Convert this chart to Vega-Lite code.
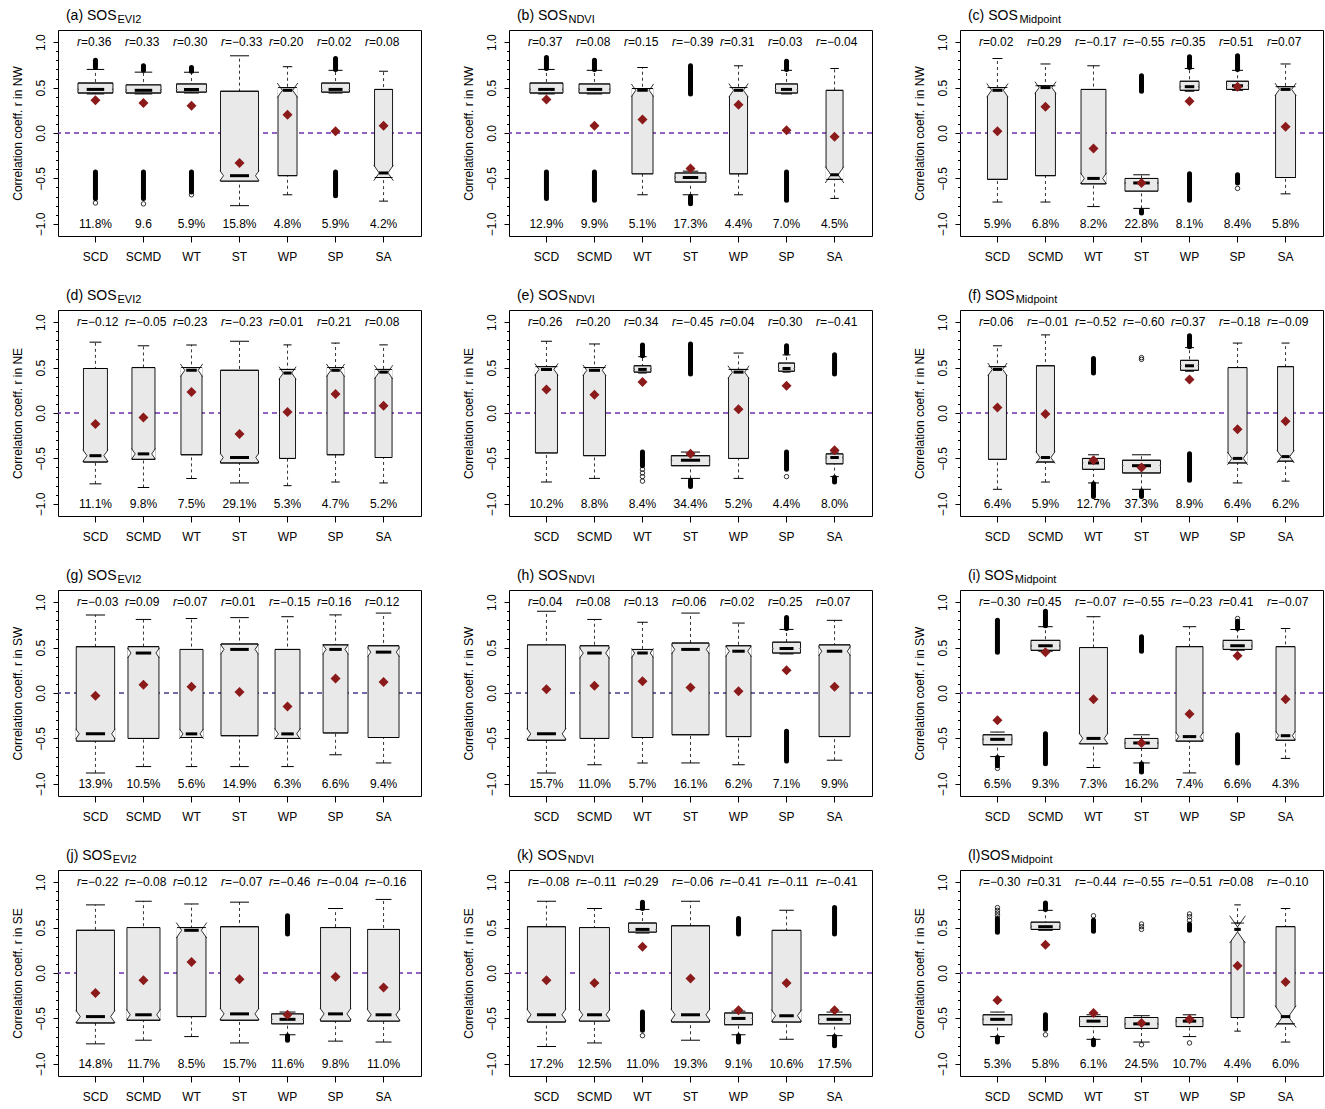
{
"$schema":"https://vega.github.io/schema/vega-lite/v6.json",
"background":"white",
"padding":{"left":10,"top":8,"right":0,"bottom":0},
"data":{"values":[
{"p":"a","c":"SCD","lo":0.43,"q1":0.44,"md":0.48,"q3":0.55,"hi":0.70,"cw":0.01,"n":0.83,"r":0.36,"pl":"11.8%","a1":-0.72,"b1":-0.43,"a2":0.72,"b2":0.80},
{"p":"a","c":"SCMD","lo":0.43,"q1":0.44,"md":0.47,"q3":0.53,"hi":0.67,"cw":0.01,"n":0.83,"r":0.33,"pl":"9.6","a1":-0.72,"b1":-0.43,"a2":0.69,"b2":0.74},
{"p":"a","c":"WT","lo":0.44,"q1":0.45,"md":0.48,"q3":0.54,"hi":0.67,"cw":0.01,"n":0.61,"r":0.30,"pl":"5.9%","a1":-0.65,"b1":-0.43,"a2":0.68,"b2":0.72},
{"p":"a","c":"ST","lo":-0.80,"q1":-0.53,"md":-0.47,"q3":0.46,"hi":0.85,"cw":0.055,"n":0.98,"r":-0.33,"pl":"15.8%"},
{"p":"a","c":"WP","lo":-0.68,"q1":-0.47,"md":0.47,"q3":0.50,"hi":0.73,"cw":0.08,"n":0.245,"r":0.20,"pl":"4.8%"},
{"p":"a","c":"SP","lo":0.44,"q1":0.45,"md":0.48,"q3":0.55,"hi":0.69,"cw":0.01,"n":0.53,"r":0.02,"pl":"5.9%","a1":-0.69,"b1":-0.43,"a2":0.70,"b2":0.82},
{"p":"a","c":"SA","lo":-0.75,"q1":-0.49,"md":-0.44,"q3":0.48,"hi":0.68,"cw":0.085,"n":0.22,"r":0.08,"pl":"4.2%"},
{"p":"b","c":"SCD","lo":0.43,"q1":0.44,"md":0.48,"q3":0.55,"hi":0.70,"cw":0.01,"n":0.74,"r":0.37,"pl":"12.9%","a1":-0.72,"b1":-0.43,"a2":0.71,"b2":0.83},
{"p":"b","c":"SCMD","lo":0.43,"q1":0.44,"md":0.48,"q3":0.54,"hi":0.69,"cw":0.01,"n":0.65,"r":0.08,"pl":"9.9%","a1":-0.74,"b1":-0.43,"a2":0.70,"b2":0.80},
{"p":"b","c":"WT","lo":-0.68,"q1":-0.45,"md":0.47,"q3":0.49,"hi":0.72,"cw":0.07,"n":0.30,"r":0.15,"pl":"5.1%"},
{"p":"b","c":"ST","lo":-0.68,"q1":-0.54,"md":-0.49,"q3":-0.44,"hi":-0.42,"cw":0.01,"n":0.65,"r":-0.39,"pl":"17.3%","a1":-0.78,"b1":-0.70,"a2":0.43,"b2":0.74},
{"p":"b","c":"WP","lo":-0.68,"q1":-0.45,"md":0.47,"q3":0.50,"hi":0.74,"cw":0.075,"n":0.22,"r":0.31,"pl":"4.4%"},
{"p":"b","c":"SP","lo":0.43,"q1":0.44,"md":0.48,"q3":0.54,"hi":0.69,"cw":0.01,"n":0.33,"r":0.03,"pl":"7.0%","a1":-0.74,"b1":-0.43,"a2":0.70,"b2":0.79},
{"p":"b","c":"SA","lo":-0.72,"q1":-0.51,"md":-0.46,"q3":0.47,"hi":0.71,"cw":0.09,"n":0.196,"r":-0.04,"pl":"4.5%"},
{"p":"c","c":"SCD","lo":-0.76,"q1":-0.51,"md":0.47,"q3":0.50,"hi":0.82,"cw":0.075,"n":0.27,"r":0.02,"pl":"5.9%"},
{"p":"c","c":"SCMD","lo":-0.76,"q1":-0.47,"md":0.50,"q3":0.52,"hi":0.76,"cw":0.065,"n":0.27,"r":0.29,"pl":"6.8%"},
{"p":"c","c":"WT","lo":-0.81,"q1":-0.56,"md":-0.50,"q3":0.48,"hi":0.74,"cw":0.06,"n":0.42,"r":-0.17,"pl":"8.2%"},
{"p":"c","c":"ST","lo":-0.83,"q1":-0.64,"md":-0.55,"q3":-0.50,"hi":-0.46,"cw":0.01,"n":0.74,"r":-0.55,"pl":"22.8%","a1":-0.88,"b1":-0.85,"a2":0.46,"b2":0.63},
{"p":"c","c":"WP","lo":0.46,"q1":0.47,"md":0.51,"q3":0.57,"hi":0.71,"cw":0.01,"n":0.245,"r":0.35,"pl":"8.1%","a1":-0.74,"b1":-0.45,"a2":0.72,"b2":0.84},
{"p":"c","c":"SP","lo":0.47,"q1":0.48,"md":0.52,"q3":0.57,"hi":0.69,"cw":0.01,"n":0.33,"r":0.51,"pl":"8.4%","a1":-0.55,"b1":-0.46,"a2":0.70,"b2":0.85},
{"p":"c","c":"SA","lo":-0.67,"q1":-0.49,"md":0.48,"q3":0.51,"hi":0.76,"cw":0.07,"n":0.27,"r":0.07,"pl":"5.8%"},
{"p":"d","c":"SCD","lo":-0.78,"q1":-0.54,"md":-0.47,"q3":0.49,"hi":0.78,"cw":0.065,"n":0.39,"r":-0.12,"pl":"11.1%"},
{"p":"d","c":"SCMD","lo":-0.82,"q1":-0.51,"md":-0.45,"q3":0.50,"hi":0.74,"cw":0.06,"n":0.36,"r":-0.05,"pl":"9.8%"},
{"p":"d","c":"WT","lo":-0.72,"q1":-0.46,"md":0.47,"q3":0.50,"hi":0.75,"cw":0.07,"n":0.30,"r":0.23,"pl":"7.5%"},
{"p":"d","c":"ST","lo":-0.77,"q1":-0.55,"md":-0.49,"q3":0.47,"hi":0.79,"cw":0.05,"n":0.98,"r":-0.23,"pl":"29.1%"},
{"p":"d","c":"WP","lo":-0.80,"q1":-0.50,"md":0.44,"q3":0.48,"hi":0.75,"cw":0.07,"n":0.174,"r":0.01,"pl":"5.3%"},
{"p":"d","c":"SP","lo":-0.76,"q1":-0.46,"md":0.47,"q3":0.50,"hi":0.77,"cw":0.07,"n":0.196,"r":0.21,"pl":"4.7%"},
{"p":"d","c":"SA","lo":-0.77,"q1":-0.49,"md":0.45,"q3":0.48,"hi":0.75,"cw":0.075,"n":0.196,"r":0.08,"pl":"5.2%"},
{"p":"e","c":"SCD","lo":-0.76,"q1":-0.44,"md":0.48,"q3":0.51,"hi":0.79,"cw":0.065,"n":0.33,"r":0.26,"pl":"10.2%"},
{"p":"e","c":"SCMD","lo":-0.72,"q1":-0.47,"md":0.47,"q3":0.50,"hi":0.76,"cw":0.06,"n":0.33,"r":0.20,"pl":"8.8%"},
{"p":"e","c":"WT","lo":0.44,"q1":0.45,"md":0.48,"q3":0.52,"hi":0.62,"cw":0.01,"n":0.196,"r":0.34,"pl":"8.4%","a1":-0.58,"b1":-0.43,"a2":0.63,"b2":0.75},
{"p":"e","c":"ST","lo":-0.72,"q1":-0.58,"md":-0.52,"q3":-0.47,"hi":-0.43,"cw":0.01,"n":1.0,"r":-0.45,"pl":"34.4%","a1":-0.81,"b1":-0.74,"a2":0.43,"b2":0.76},
{"p":"e","c":"WP","lo":-0.72,"q1":-0.50,"md":0.45,"q3":0.48,"hi":0.66,"cw":0.07,"n":0.27,"r":0.04,"pl":"5.2%"},
{"p":"e","c":"SP","lo":0.45,"q1":0.46,"md":0.49,"q3":0.55,"hi":0.64,"cw":0.01,"n":0.174,"r":0.30,"pl":"4.4%","a1":-0.62,"b1":-0.43,"a2":0.66,"b2":0.74},
{"p":"e","c":"SA","lo":-0.70,"q1":-0.56,"md":-0.49,"q3":-0.45,"hi":-0.43,"cw":0.01,"n":0.196,"r":-0.41,"pl":"8.0%","a1":-0.76,"b1":-0.71,"a2":0.43,"b2":0.64},
{"p":"f","c":"SCD","lo":-0.84,"q1":-0.51,"md":0.48,"q3":0.51,"hi":0.74,"cw":0.07,"n":0.22,"r":0.06,"pl":"6.4%"},
{"p":"f","c":"SCMD","lo":-0.76,"q1":-0.54,"md":-0.49,"q3":0.52,"hi":0.86,"cw":0.065,"n":0.22,"r":-0.01,"pl":"5.9%"},
{"p":"f","c":"WT","lo":-0.77,"q1":-0.62,"md":-0.55,"q3":-0.50,"hi":-0.46,"cw":0.01,"n":0.33,"r":-0.52,"pl":"12.7%","a1":-0.92,"b1":-0.78,"a2":0.44,"b2":0.60},
{"p":"f","c":"ST","lo":-0.84,"q1":-0.66,"md":-0.58,"q3":-0.52,"hi":-0.46,"cw":0.01,"n":0.98,"r":-0.60,"pl":"37.3%","a1":-0.92,"b1":-0.86},
{"p":"f","c":"WP","lo":0.46,"q1":0.47,"md":0.52,"q3":0.58,"hi":0.72,"cw":0.01,"n":0.22,"r":0.37,"pl":"8.9%","a1":-0.74,"b1":-0.45,"a2":0.73,"b2":0.85},
{"p":"f","c":"SP","lo":-0.77,"q1":-0.55,"md":-0.50,"q3":0.50,"hi":0.77,"cw":0.07,"n":0.245,"r":-0.18,"pl":"6.4%"},
{"p":"f","c":"SA","lo":-0.75,"q1":-0.53,"md":-0.48,"q3":0.51,"hi":0.77,"cw":0.07,"n":0.174,"r":-0.09,"pl":"6.2%"},
{"p":"g","c":"SCD","lo":-0.88,"q1":-0.53,"md":-0.45,"q3":0.51,"hi":0.86,"cw":0.055,"n":1.0,"r":-0.03,"pl":"13.9%"},
{"p":"g","c":"SCMD","lo":-0.81,"q1":-0.50,"md":0.44,"q3":0.51,"hi":0.81,"cw":0.055,"n":0.65,"r":0.09,"pl":"10.5%"},
{"p":"g","c":"WT","lo":-0.81,"q1":-0.49,"md":-0.45,"q3":0.48,"hi":0.82,"cw":0.055,"n":0.36,"r":0.07,"pl":"5.6%"},
{"p":"g","c":"ST","lo":-0.81,"q1":-0.47,"md":0.48,"q3":0.54,"hi":0.83,"cw":0.055,"n":0.93,"r":0.01,"pl":"14.9%"},
{"p":"g","c":"WP","lo":-0.81,"q1":-0.50,"md":-0.45,"q3":0.48,"hi":0.84,"cw":0.06,"n":0.42,"r":-0.15,"pl":"6.3%"},
{"p":"g","c":"SP","lo":-0.68,"q1":-0.44,"md":0.48,"q3":0.53,"hi":0.86,"cw":0.055,"n":0.42,"r":0.16,"pl":"6.6%"},
{"p":"g","c":"SA","lo":-0.77,"q1":-0.49,"md":0.45,"q3":0.52,"hi":0.88,"cw":0.05,"n":0.65,"r":0.12,"pl":"9.4%"},
{"p":"h","c":"SCD","lo":-0.88,"q1":-0.52,"md":-0.45,"q3":0.53,"hi":0.90,"cw":0.06,"n":0.98,"r":0.04,"pl":"15.7%"},
{"p":"h","c":"SCMD","lo":-0.79,"q1":-0.50,"md":0.44,"q3":0.52,"hi":0.81,"cw":0.06,"n":0.57,"r":0.08,"pl":"11.0%"},
{"p":"h","c":"WT","lo":-0.77,"q1":-0.49,"md":0.44,"q3":0.48,"hi":0.78,"cw":0.05,"n":0.30,"r":0.13,"pl":"5.7%"},
{"p":"h","c":"ST","lo":-0.77,"q1":-0.46,"md":0.48,"q3":0.55,"hi":0.88,"cw":0.05,"n":0.93,"r":0.06,"pl":"16.1%"},
{"p":"h","c":"WP","lo":-0.79,"q1":-0.48,"md":0.46,"q3":0.52,"hi":0.77,"cw":0.06,"n":0.42,"r":0.02,"pl":"6.2%"},
{"p":"h","c":"SP","lo":0.43,"q1":0.44,"md":0.49,"q3":0.56,"hi":0.70,"cw":0.01,"n":0.53,"r":0.25,"pl":"7.1%","a1":-0.75,"b1":-0.42,"a2":0.71,"b2":0.83},
{"p":"h","c":"SA","lo":-0.74,"q1":-0.48,"md":0.46,"q3":0.53,"hi":0.80,"cw":0.05,"n":0.65,"r":0.07,"pl":"9.9%"},
{"p":"i","c":"SCD","lo":-0.70,"q1":-0.57,"md":-0.51,"q3":-0.46,"hi":-0.43,"cw":0.01,"n":0.57,"r":-0.30,"pl":"6.5%","a1":-0.80,"b1":-0.71,"a2":0.45,"b2":0.80},
{"p":"i","c":"SCMD","lo":0.46,"q1":0.47,"md":0.52,"q3":0.58,"hi":0.73,"cw":0.01,"n":0.57,"r":0.45,"pl":"9.3%","a1":-0.78,"b1":-0.45,"a2":0.74,"b2":0.90},
{"p":"i","c":"WT","lo":-0.82,"q1":-0.56,"md":-0.50,"q3":0.50,"hi":0.84,"cw":0.06,"n":0.53,"r":-0.07,"pl":"7.3%"},
{"p":"i","c":"ST","lo":-0.77,"q1":-0.61,"md":-0.55,"q3":-0.50,"hi":-0.46,"cw":0.01,"n":0.74,"r":-0.55,"pl":"16.2%","a1":-0.87,"b1":-0.78,"a2":0.46,"b2":0.62},
{"p":"i","c":"WP","lo":-0.88,"q1":-0.53,"md":-0.48,"q3":0.51,"hi":0.73,"cw":0.05,"n":0.49,"r":-0.23,"pl":"7.4%"},
{"p":"i","c":"SP","lo":0.47,"q1":0.48,"md":0.52,"q3":0.58,"hi":0.70,"cw":0.01,"n":0.57,"r":0.41,"pl":"6.6%","a1":-0.77,"b1":-0.46,"a2":0.71,"b2":0.79},
{"p":"i","c":"SA","lo":-0.72,"q1":-0.52,"md":-0.47,"q3":0.51,"hi":0.71,"cw":0.05,"n":0.245,"r":-0.07,"pl":"4.3%"},
{"p":"j","c":"SCD","lo":-0.78,"q1":-0.55,"md":-0.48,"q3":0.47,"hi":0.75,"cw":0.07,"n":0.98,"r":-0.22,"pl":"14.8%"},
{"p":"j","c":"SCMD","lo":-0.74,"q1":-0.52,"md":-0.46,"q3":0.50,"hi":0.79,"cw":0.06,"n":0.74,"r":-0.08,"pl":"11.7%"},
{"p":"j","c":"WT","lo":-0.70,"q1":-0.48,"md":0.47,"q3":0.50,"hi":0.76,"cw":0.085,"n":0.57,"r":0.12,"pl":"8.5%"},
{"p":"j","c":"ST","lo":-0.77,"q1":-0.52,"md":-0.45,"q3":0.51,"hi":0.78,"cw":0.065,"n":0.98,"r":-0.07,"pl":"15.7%"},
{"p":"j","c":"WP","lo":-0.68,"q1":-0.56,"md":-0.51,"q3":-0.45,"hi":-0.43,"cw":0.01,"n":0.69,"r":-0.46,"pl":"11.6%","a1":-0.74,"b1":-0.69,"a2":0.43,"b2":0.63},
{"p":"j","c":"SP","lo":-0.75,"q1":-0.53,"md":-0.45,"q3":0.50,"hi":0.71,"cw":0.065,"n":0.61,"r":-0.04,"pl":"9.8%"},
{"p":"j","c":"SA","lo":-0.76,"q1":-0.53,"md":-0.46,"q3":0.48,"hi":0.81,"cw":0.065,"n":0.69,"r":-0.16,"pl":"11.0%"},
{"p":"k","c":"SCD","lo":-0.81,"q1":-0.54,"md":-0.46,"q3":0.51,"hi":0.79,"cw":0.065,"n":0.98,"r":-0.08,"pl":"17.2%"},
{"p":"k","c":"SCMD","lo":-0.77,"q1":-0.53,"md":-0.46,"q3":0.50,"hi":0.71,"cw":0.06,"n":0.61,"r":-0.11,"pl":"12.5%"},
{"p":"k","c":"WT","lo":0.44,"q1":0.45,"md":0.48,"q3":0.55,"hi":0.70,"cw":0.01,"n":0.53,"r":0.29,"pl":"11.0%","a1":-0.63,"b1":-0.43,"a2":0.71,"b2":0.78},
{"p":"k","c":"ST","lo":-0.74,"q1":-0.54,"md":-0.46,"q3":0.52,"hi":0.79,"cw":0.065,"n":0.98,"r":-0.06,"pl":"19.3%"},
{"p":"k","c":"WP","lo":-0.68,"q1":-0.57,"md":-0.50,"q3":-0.44,"hi":-0.42,"cw":0.01,"n":0.53,"r":-0.41,"pl":"9.1%","a1":-0.76,"b1":-0.69,"a2":0.43,"b2":0.60},
{"p":"k","c":"SP","lo":-0.73,"q1":-0.54,"md":-0.47,"q3":0.47,"hi":0.69,"cw":0.065,"n":0.57,"r":-0.11,"pl":"10.6%"},
{"p":"k","c":"SA","lo":-0.69,"q1":-0.56,"md":-0.51,"q3":-0.46,"hi":-0.43,"cw":0.01,"n":0.69,"r":-0.41,"pl":"17.5%","a1":-0.80,"b1":-0.70,"a2":0.43,"b2":0.72},
{"p":"l","c":"SCD","lo":-0.70,"q1":-0.57,"md":-0.51,"q3":-0.46,"hi":-0.43,"cw":0.01,"n":0.57,"r":-0.30,"pl":"5.3%","a1":-0.76,"b1":-0.71,"a2":0.45,"b2":0.60},
{"p":"l","c":"SCMD","lo":0.47,"q1":0.48,"md":0.51,"q3":0.56,"hi":0.69,"cw":0.01,"n":0.57,"r":0.31,"pl":"5.8%","a1":-0.62,"b1":-0.46,"a2":0.70,"b2":0.77},
{"p":"l","c":"WT","lo":-0.73,"q1":-0.59,"md":-0.53,"q3":-0.48,"hi":-0.46,"cw":0.01,"n":0.53,"r":-0.44,"pl":"6.1%","a1":-0.79,"b1":-0.74,"a2":0.46,"b2":0.58},
{"p":"l","c":"ST","lo":-0.76,"q1":-0.61,"md":-0.56,"q3":-0.49,"hi":-0.47,"cw":0.01,"n":0.74,"r":-0.55,"pl":"24.5%"},
{"p":"l","c":"WP","lo":-0.70,"q1":-0.59,"md":-0.53,"q3":-0.49,"hi":-0.46,"cw":0.01,"n":0.49,"r":-0.51,"pl":"10.7%","a2":0.47,"b2":0.54},
{"p":"l","c":"SP","lo":-0.64,"q1":-0.49,"md":0.48,"q3":0.55,"hi":0.75,"cw":0.15,"n":0.115,"r":0.08,"pl":"4.4%"},
{"p":"l","c":"SA","lo":-0.76,"q1":-0.56,"md":-0.48,"q3":0.51,"hi":0.71,"cw":0.12,"n":0.245,"r":-0.10,"pl":"6.0%"},
{"p":"a","c":"SCD","v":-0.77},{"p":"a","c":"SCMD","v":-0.78},{"p":"a","c":"WT","v":-0.68},
{"p":"c","c":"SP","v":-0.61},
{"p":"e","c":"WT","v":-0.62},{"p":"e","c":"WT","v":-0.66},{"p":"e","c":"WT","v":-0.70},{"p":"e","c":"WT","v":-0.75},{"p":"e","c":"SP","v":-0.70},
{"p":"f","c":"ST","v":0.59},{"p":"f","c":"ST","v":0.61},
{"p":"i","c":"SCD","v":-0.83},{"p":"i","c":"SP","v":0.82},
{"p":"k","c":"WT","v":-0.69},
{"p":"l","c":"SCD","v":0.63},{"p":"l","c":"SCD","v":0.66},{"p":"l","c":"SCD","v":0.69},{"p":"l","c":"SCD","v":0.72},
{"p":"l","c":"SCMD","v":-0.68},{"p":"l","c":"WT","v":0.63},
{"p":"l","c":"ST","v":-0.79},{"p":"l","c":"ST","v":0.48},{"p":"l","c":"ST","v":0.51},{"p":"l","c":"ST","v":0.54},
{"p":"l","c":"WP","v":-0.77},{"p":"l","c":"WP","v":0.58},{"p":"l","c":"WP","v":0.62},{"p":"l","c":"WP","v":0.65}
]},
"spacing":26,
"vconcat":[
{"transform":[{"filter":{"field":"p","oneOf":["a","b","c"]}}],
"facet":{"column":{"field":"p","type":"nominal","title":null,"header":{"labels":false}}},
"spacing":88,"bounds":"flush","resolve":{"axis":{"y":"independent"}},
"spec":{"width":363,"height":206,"resolve":{"axis":{"y":"independent"}},
"layer":[
{"transform":[{"filter":"datum.c == 'SCD' && isValid(datum.r)"}],"mark":{"type":"rule","stroke":"#7030b0","strokeDash":[5,4],"strokeWidth":1.3},"encoding":{"y":{"datum":0,"type":"quantitative","scale":{"domain":[-1.134,1.134],"nice":false,"zero":false},"axis":{"orient":"left","values":[-0.9,-0.8,-0.7,-0.6,-0.4,-0.3,-0.2,-0.1,0.1,0.2,0.3,0.4,0.6,0.7,0.8,0.9],"labels":false,"tickSize":2.5,"title":null,"domain":false,"grid":false}}}},
{"resolve":{"scale":{"size":"independent","xOffset":"independent"}},"layer":[
{"mark":{"type":"rule","color":"black","strokeDash":[3,3],"strokeWidth":0.8},"encoding":{"x":{"field":"c","type":"nominal","title":null,"scale":{"type":"band","domain":["SCD","SCMD","WT","ST","WP","SP","SA"],"paddingInner":0,"paddingOuter":0.28},"axis":{"labelAngle":0,"tickSize":6,"labelPadding":9}},"y":{"field":"lo","type":"quantitative","scale":{"domain":[-1.134,1.134],"nice":false,"zero":false},"title":"Correlation coeff. r in NW","axis":{"orient":"left","values":[-1,-0.5,0,0.5,1],"format":".1f","tickSize":5,"labelAngle":270,"labelAlign":"center","labelBaseline":"bottom","labelPadding":6,"titlePadding":10,"labelFlush":false}},"y2":{"field":"hi"}}},
{"mark":{"type":"tick","color":"black","opacity":1,"thickness":1},"encoding":{"x":{"field":"c","type":"nominal"},"y":{"field":"lo","type":"quantitative"},"size":{"field":"n","type":"quantitative","scale":{"type":"sqrt","domain":[0,1],"range":[0,19.2]},"legend":null}}},
{"mark":{"type":"tick","color":"black","opacity":1,"thickness":1},"encoding":{"x":{"field":"c","type":"nominal"},"y":{"field":"hi","type":"quantitative"},"size":{"field":"n","type":"quantitative","scale":{"type":"sqrt","domain":[0,1],"range":[0,19.2]},"legend":null}}},
{"mark":{"type":"bar","fill":"#e9e9e9","stroke":"black","strokeWidth":0.9},"encoding":{"x":{"field":"c","type":"nominal"},"y":{"field":"q1","type":"quantitative"},"y2":{"field":"q3"},"size":{"field":"n","type":"quantitative","scale":{"type":"sqrt","domain":[0,1],"range":[0,38.4]},"legend":null}}},
{"mark":{"type":"point","shape":"M0.1,-1L-0.6,0L0.1,1","filled":true,"fill":"white","stroke":"black","strokeWidth":0.8,"opacity":1},"encoding":{"x":{"field":"c","type":"nominal"},"y":{"field":"md","type":"quantitative"},"xOffset":{"field":"n","type":"quantitative","scale":{"type":"sqrt","domain":[0,1],"range":[24.01,43.21]}},"size":{"field":"cw","type":"quantitative","scale":{"type":"pow","exponent":2,"domain":[0,0.1],"range":[0,333.4]},"legend":null}}},
{"mark":{"type":"point","shape":"M-0.1,-1L0.6,0L-0.1,1","filled":true,"fill":"white","stroke":"black","strokeWidth":0.8,"opacity":1},"encoding":{"x":{"field":"c","type":"nominal"},"y":{"field":"md","type":"quantitative"},"xOffset":{"field":"n","type":"quantitative","scale":{"type":"sqrt","domain":[0,1],"range":[24.01,4.81]}},"size":{"field":"cw","type":"quantitative","scale":{"type":"pow","exponent":2,"domain":[0,0.1],"range":[0,333.4]},"legend":null}}},
{"mark":{"type":"tick","color":"black","opacity":1,"thickness":0.9},"encoding":{"x":{"field":"c","type":"nominal"},"y":{"field":"q1","type":"quantitative"},"size":{"field":"n","type":"quantitative","scale":{"type":"sqrt","domain":[0,1],"range":[0,38.4]},"legend":null}}},
{"mark":{"type":"tick","color":"black","opacity":1,"thickness":0.9},"encoding":{"x":{"field":"c","type":"nominal"},"y":{"field":"q3","type":"quantitative"},"size":{"field":"n","type":"quantitative","scale":{"type":"sqrt","domain":[0,1],"range":[0,38.4]},"legend":null}}},
{"mark":{"type":"tick","color":"black","opacity":1,"thickness":3},"encoding":{"x":{"field":"c","type":"nominal"},"y":{"field":"md","type":"quantitative"},"size":{"field":"n","type":"quantitative","scale":{"type":"sqrt","domain":[0,1],"range":[0,19.2]},"legend":null}}},
{"mark":{"type":"rule","color":"black","strokeWidth":5,"strokeCap":"round"},"encoding":{"x":{"field":"c","type":"nominal"},"y":{"field":"a1","type":"quantitative"},"y2":{"field":"b1"}}},
{"mark":{"type":"rule","color":"black","strokeWidth":5,"strokeCap":"round"},"encoding":{"x":{"field":"c","type":"nominal"},"y":{"field":"a2","type":"quantitative"},"y2":{"field":"b2"}}},
{"mark":{"type":"point","shape":"circle","filled":false,"stroke":"black","strokeWidth":0.8,"size":20,"opacity":1},"encoding":{"x":{"field":"c","type":"nominal"},"y":{"field":"v","type":"quantitative"}}},
{"mark":{"type":"point","shape":"diamond","filled":true,"fill":"#8b1a1a","strokeWidth":0,"size":100,"opacity":1},"encoding":{"x":{"field":"c","type":"nominal"},"y":{"field":"r","type":"quantitative"}}},
{"transform":[{"filter":"isValid(datum.r)"}],"mark":{"type":"text","text":"r","fontStyle":"italic","align":"right","dx":-14.5},"encoding":{"x":{"field":"c","type":"nominal"},"y":{"datum":1}}},
{"transform":[{"filter":"isValid(datum.r)"}],"mark":{"type":"text","text":"=","align":"left","dx":-14.5},"encoding":{"x":{"field":"c","type":"nominal"},"y":{"datum":1}}},
{"transform":[{"filter":"isValid(datum.r)"}],"mark":{"type":"text","align":"left","dx":-7.5},"encoding":{"x":{"field":"c","type":"nominal"},"y":{"datum":1},"text":{"field":"r","type":"quantitative","format":".2f"}}},
{"transform":[{"filter":"isValid(datum.r)"}],"mark":{"type":"text"},"encoding":{"x":{"field":"c","type":"nominal"},"y":{"datum":-1},"text":{"field":"pl"}}},
{"transform":[{"filter":"datum.c == 'SCD' && isValid(datum.r)"}],"mark":{"type":"text","align":"left","baseline":"alphabetic","dx":-29.5,"dy":-10,"fontSize":14},"encoding":{"x":{"field":"c","type":"nominal"},"y":{"datum":1.134},"text":{"condition":[{"test":"datum.p == 'a'","value":"(a) SOS"},{"test":"datum.p == 'b'","value":"(b) SOS"}],"value":"(c) SOS"}}},
{"transform":[{"filter":"datum.c == 'SCD' && isValid(datum.r)"}],"mark":{"type":"text","align":"left","baseline":"alphabetic","dx":22,"dy":-7,"fontSize":11},"encoding":{"x":{"field":"c","type":"nominal"},"y":{"datum":1.134},"text":{"condition":[{"test":"datum.p == 'a'","value":"EVI2"},{"test":"datum.p == 'b'","value":"NDVI"}],"value":"Midpoint"}}}
]}]}},
{"transform":[{"filter":{"field":"p","oneOf":["d","e","f"]}}],
"facet":{"column":{"field":"p","type":"nominal","title":null,"header":{"labels":false}}},
"spacing":88,"bounds":"flush","resolve":{"axis":{"y":"independent"}},
"spec":{"width":363,"height":206,"resolve":{"axis":{"y":"independent"}},
"layer":[
{"transform":[{"filter":"datum.c == 'SCD' && isValid(datum.r)"}],"mark":{"type":"rule","stroke":"#7030b0","strokeDash":[5,4],"strokeWidth":1.3},"encoding":{"y":{"datum":0,"type":"quantitative","scale":{"domain":[-1.134,1.134],"nice":false,"zero":false},"axis":{"orient":"left","values":[-0.9,-0.8,-0.7,-0.6,-0.4,-0.3,-0.2,-0.1,0.1,0.2,0.3,0.4,0.6,0.7,0.8,0.9],"labels":false,"tickSize":2.5,"title":null,"domain":false,"grid":false}}}},
{"resolve":{"scale":{"size":"independent","xOffset":"independent"}},"layer":[
{"mark":{"type":"rule","color":"black","strokeDash":[3,3],"strokeWidth":0.8},"encoding":{"x":{"field":"c","type":"nominal","title":null,"scale":{"type":"band","domain":["SCD","SCMD","WT","ST","WP","SP","SA"],"paddingInner":0,"paddingOuter":0.28},"axis":{"labelAngle":0,"tickSize":6,"labelPadding":9}},"y":{"field":"lo","type":"quantitative","scale":{"domain":[-1.134,1.134],"nice":false,"zero":false},"title":"Correlation coeff. r in NE","axis":{"orient":"left","values":[-1,-0.5,0,0.5,1],"format":".1f","tickSize":5,"labelAngle":270,"labelAlign":"center","labelBaseline":"bottom","labelPadding":6,"titlePadding":10,"labelFlush":false}},"y2":{"field":"hi"}}},
{"mark":{"type":"tick","color":"black","opacity":1,"thickness":1},"encoding":{"x":{"field":"c","type":"nominal"},"y":{"field":"lo","type":"quantitative"},"size":{"field":"n","type":"quantitative","scale":{"type":"sqrt","domain":[0,1],"range":[0,19.2]},"legend":null}}},
{"mark":{"type":"tick","color":"black","opacity":1,"thickness":1},"encoding":{"x":{"field":"c","type":"nominal"},"y":{"field":"hi","type":"quantitative"},"size":{"field":"n","type":"quantitative","scale":{"type":"sqrt","domain":[0,1],"range":[0,19.2]},"legend":null}}},
{"mark":{"type":"bar","fill":"#e9e9e9","stroke":"black","strokeWidth":0.9},"encoding":{"x":{"field":"c","type":"nominal"},"y":{"field":"q1","type":"quantitative"},"y2":{"field":"q3"},"size":{"field":"n","type":"quantitative","scale":{"type":"sqrt","domain":[0,1],"range":[0,38.4]},"legend":null}}},
{"mark":{"type":"point","shape":"M0.1,-1L-0.6,0L0.1,1","filled":true,"fill":"white","stroke":"black","strokeWidth":0.8,"opacity":1},"encoding":{"x":{"field":"c","type":"nominal"},"y":{"field":"md","type":"quantitative"},"xOffset":{"field":"n","type":"quantitative","scale":{"type":"sqrt","domain":[0,1],"range":[24.01,43.21]}},"size":{"field":"cw","type":"quantitative","scale":{"type":"pow","exponent":2,"domain":[0,0.1],"range":[0,333.4]},"legend":null}}},
{"mark":{"type":"point","shape":"M-0.1,-1L0.6,0L-0.1,1","filled":true,"fill":"white","stroke":"black","strokeWidth":0.8,"opacity":1},"encoding":{"x":{"field":"c","type":"nominal"},"y":{"field":"md","type":"quantitative"},"xOffset":{"field":"n","type":"quantitative","scale":{"type":"sqrt","domain":[0,1],"range":[24.01,4.81]}},"size":{"field":"cw","type":"quantitative","scale":{"type":"pow","exponent":2,"domain":[0,0.1],"range":[0,333.4]},"legend":null}}},
{"mark":{"type":"tick","color":"black","opacity":1,"thickness":0.9},"encoding":{"x":{"field":"c","type":"nominal"},"y":{"field":"q1","type":"quantitative"},"size":{"field":"n","type":"quantitative","scale":{"type":"sqrt","domain":[0,1],"range":[0,38.4]},"legend":null}}},
{"mark":{"type":"tick","color":"black","opacity":1,"thickness":0.9},"encoding":{"x":{"field":"c","type":"nominal"},"y":{"field":"q3","type":"quantitative"},"size":{"field":"n","type":"quantitative","scale":{"type":"sqrt","domain":[0,1],"range":[0,38.4]},"legend":null}}},
{"mark":{"type":"tick","color":"black","opacity":1,"thickness":3},"encoding":{"x":{"field":"c","type":"nominal"},"y":{"field":"md","type":"quantitative"},"size":{"field":"n","type":"quantitative","scale":{"type":"sqrt","domain":[0,1],"range":[0,19.2]},"legend":null}}},
{"mark":{"type":"rule","color":"black","strokeWidth":5,"strokeCap":"round"},"encoding":{"x":{"field":"c","type":"nominal"},"y":{"field":"a1","type":"quantitative"},"y2":{"field":"b1"}}},
{"mark":{"type":"rule","color":"black","strokeWidth":5,"strokeCap":"round"},"encoding":{"x":{"field":"c","type":"nominal"},"y":{"field":"a2","type":"quantitative"},"y2":{"field":"b2"}}},
{"mark":{"type":"point","shape":"circle","filled":false,"stroke":"black","strokeWidth":0.8,"size":20,"opacity":1},"encoding":{"x":{"field":"c","type":"nominal"},"y":{"field":"v","type":"quantitative"}}},
{"mark":{"type":"point","shape":"diamond","filled":true,"fill":"#8b1a1a","strokeWidth":0,"size":100,"opacity":1},"encoding":{"x":{"field":"c","type":"nominal"},"y":{"field":"r","type":"quantitative"}}},
{"transform":[{"filter":"isValid(datum.r)"}],"mark":{"type":"text","text":"r","fontStyle":"italic","align":"right","dx":-14.5},"encoding":{"x":{"field":"c","type":"nominal"},"y":{"datum":1}}},
{"transform":[{"filter":"isValid(datum.r)"}],"mark":{"type":"text","text":"=","align":"left","dx":-14.5},"encoding":{"x":{"field":"c","type":"nominal"},"y":{"datum":1}}},
{"transform":[{"filter":"isValid(datum.r)"}],"mark":{"type":"text","align":"left","dx":-7.5},"encoding":{"x":{"field":"c","type":"nominal"},"y":{"datum":1},"text":{"field":"r","type":"quantitative","format":".2f"}}},
{"transform":[{"filter":"isValid(datum.r)"}],"mark":{"type":"text"},"encoding":{"x":{"field":"c","type":"nominal"},"y":{"datum":-1},"text":{"field":"pl"}}},
{"transform":[{"filter":"datum.c == 'SCD' && isValid(datum.r)"}],"mark":{"type":"text","align":"left","baseline":"alphabetic","dx":-29.5,"dy":-10,"fontSize":14},"encoding":{"x":{"field":"c","type":"nominal"},"y":{"datum":1.134},"text":{"condition":[{"test":"datum.p == 'd'","value":"(d) SOS"},{"test":"datum.p == 'e'","value":"(e) SOS"}],"value":"(f) SOS"}}},
{"transform":[{"filter":"datum.c == 'SCD' && isValid(datum.r) && datum.p != 'f'"}],"mark":{"type":"text","align":"left","baseline":"alphabetic","dx":22,"dy":-7,"fontSize":11},"encoding":{"x":{"field":"c","type":"nominal"},"y":{"datum":1.134},"text":{"condition":[{"test":"datum.p == 'd'","value":"EVI2"}],"value":"NDVI"}}},
{"transform":[{"filter":"datum.c == 'SCD' && isValid(datum.r) && datum.p == 'f'"}],"mark":{"type":"text","align":"left","baseline":"alphabetic","dx":18.2,"dy":-7,"fontSize":11},"encoding":{"x":{"field":"c","type":"nominal"},"y":{"datum":1.134},"text":{"value":"Midpoint"}}}
]}]}},
{"transform":[{"filter":{"field":"p","oneOf":["g","h","i"]}}],
"facet":{"column":{"field":"p","type":"nominal","title":null,"header":{"labels":false}}},
"spacing":88,"bounds":"flush","resolve":{"axis":{"y":"independent"}},
"spec":{"width":363,"height":206,"resolve":{"axis":{"y":"independent"}},
"layer":[
{"transform":[{"filter":"datum.c == 'SCD' && isValid(datum.r)"}],"mark":{"type":"rule","strokeDash":[5,4],"strokeWidth":1.3},"encoding":{"y":{"datum":0,"type":"quantitative","scale":{"domain":[-1.134,1.134],"nice":false,"zero":false},"axis":{"orient":"left","values":[-0.9,-0.8,-0.7,-0.6,-0.4,-0.3,-0.2,-0.1,0.1,0.2,0.3,0.4,0.6,0.7,0.8,0.9],"labels":false,"tickSize":2.5,"title":null,"domain":false,"grid":false}},"color":{"condition":{"test":"datum.p == 'i'","value":"#7030b0"},"value":"#4b3a8c"}}},
{"resolve":{"scale":{"size":"independent","xOffset":"independent"}},"layer":[
{"mark":{"type":"rule","color":"black","strokeDash":[3,3],"strokeWidth":0.8},"encoding":{"x":{"field":"c","type":"nominal","title":null,"scale":{"type":"band","domain":["SCD","SCMD","WT","ST","WP","SP","SA"],"paddingInner":0,"paddingOuter":0.28},"axis":{"labelAngle":0,"tickSize":6,"labelPadding":9}},"y":{"field":"lo","type":"quantitative","scale":{"domain":[-1.134,1.134],"nice":false,"zero":false},"title":"Correlation coeff. r in SW","axis":{"orient":"left","values":[-1,-0.5,0,0.5,1],"format":".1f","tickSize":5,"labelAngle":270,"labelAlign":"center","labelBaseline":"bottom","labelPadding":6,"titlePadding":10,"labelFlush":false}},"y2":{"field":"hi"}}},
{"mark":{"type":"tick","color":"black","opacity":1,"thickness":1},"encoding":{"x":{"field":"c","type":"nominal"},"y":{"field":"lo","type":"quantitative"},"size":{"field":"n","type":"quantitative","scale":{"type":"sqrt","domain":[0,1],"range":[0,19.2]},"legend":null}}},
{"mark":{"type":"tick","color":"black","opacity":1,"thickness":1},"encoding":{"x":{"field":"c","type":"nominal"},"y":{"field":"hi","type":"quantitative"},"size":{"field":"n","type":"quantitative","scale":{"type":"sqrt","domain":[0,1],"range":[0,19.2]},"legend":null}}},
{"mark":{"type":"bar","fill":"#e9e9e9","stroke":"black","strokeWidth":0.9},"encoding":{"x":{"field":"c","type":"nominal"},"y":{"field":"q1","type":"quantitative"},"y2":{"field":"q3"},"size":{"field":"n","type":"quantitative","scale":{"type":"sqrt","domain":[0,1],"range":[0,38.4]},"legend":null}}},
{"mark":{"type":"point","shape":"M0.1,-1L-0.6,0L0.1,1","filled":true,"fill":"white","stroke":"black","strokeWidth":0.8,"opacity":1},"encoding":{"x":{"field":"c","type":"nominal"},"y":{"field":"md","type":"quantitative"},"xOffset":{"field":"n","type":"quantitative","scale":{"type":"sqrt","domain":[0,1],"range":[24.01,43.21]}},"size":{"field":"cw","type":"quantitative","scale":{"type":"pow","exponent":2,"domain":[0,0.1],"range":[0,333.4]},"legend":null}}},
{"mark":{"type":"point","shape":"M-0.1,-1L0.6,0L-0.1,1","filled":true,"fill":"white","stroke":"black","strokeWidth":0.8,"opacity":1},"encoding":{"x":{"field":"c","type":"nominal"},"y":{"field":"md","type":"quantitative"},"xOffset":{"field":"n","type":"quantitative","scale":{"type":"sqrt","domain":[0,1],"range":[24.01,4.81]}},"size":{"field":"cw","type":"quantitative","scale":{"type":"pow","exponent":2,"domain":[0,0.1],"range":[0,333.4]},"legend":null}}},
{"mark":{"type":"tick","color":"black","opacity":1,"thickness":0.9},"encoding":{"x":{"field":"c","type":"nominal"},"y":{"field":"q1","type":"quantitative"},"size":{"field":"n","type":"quantitative","scale":{"type":"sqrt","domain":[0,1],"range":[0,38.4]},"legend":null}}},
{"mark":{"type":"tick","color":"black","opacity":1,"thickness":0.9},"encoding":{"x":{"field":"c","type":"nominal"},"y":{"field":"q3","type":"quantitative"},"size":{"field":"n","type":"quantitative","scale":{"type":"sqrt","domain":[0,1],"range":[0,38.4]},"legend":null}}},
{"mark":{"type":"tick","color":"black","opacity":1,"thickness":3},"encoding":{"x":{"field":"c","type":"nominal"},"y":{"field":"md","type":"quantitative"},"size":{"field":"n","type":"quantitative","scale":{"type":"sqrt","domain":[0,1],"range":[0,19.2]},"legend":null}}},
{"mark":{"type":"rule","color":"black","strokeWidth":5,"strokeCap":"round"},"encoding":{"x":{"field":"c","type":"nominal"},"y":{"field":"a1","type":"quantitative"},"y2":{"field":"b1"}}},
{"mark":{"type":"rule","color":"black","strokeWidth":5,"strokeCap":"round"},"encoding":{"x":{"field":"c","type":"nominal"},"y":{"field":"a2","type":"quantitative"},"y2":{"field":"b2"}}},
{"mark":{"type":"point","shape":"circle","filled":false,"stroke":"black","strokeWidth":0.8,"size":20,"opacity":1},"encoding":{"x":{"field":"c","type":"nominal"},"y":{"field":"v","type":"quantitative"}}},
{"mark":{"type":"point","shape":"diamond","filled":true,"fill":"#8b1a1a","strokeWidth":0,"size":100,"opacity":1},"encoding":{"x":{"field":"c","type":"nominal"},"y":{"field":"r","type":"quantitative"}}},
{"transform":[{"filter":"isValid(datum.r)"}],"mark":{"type":"text","text":"r","fontStyle":"italic","align":"right","dx":-14.5},"encoding":{"x":{"field":"c","type":"nominal"},"y":{"datum":1}}},
{"transform":[{"filter":"isValid(datum.r)"}],"mark":{"type":"text","text":"=","align":"left","dx":-14.5},"encoding":{"x":{"field":"c","type":"nominal"},"y":{"datum":1}}},
{"transform":[{"filter":"isValid(datum.r)"}],"mark":{"type":"text","align":"left","dx":-7.5},"encoding":{"x":{"field":"c","type":"nominal"},"y":{"datum":1},"text":{"field":"r","type":"quantitative","format":".2f"}}},
{"transform":[{"filter":"isValid(datum.r)"}],"mark":{"type":"text"},"encoding":{"x":{"field":"c","type":"nominal"},"y":{"datum":-1},"text":{"field":"pl"}}},
{"transform":[{"filter":"datum.c == 'SCD' && isValid(datum.r)"}],"mark":{"type":"text","align":"left","baseline":"alphabetic","dx":-29.5,"dy":-10,"fontSize":14},"encoding":{"x":{"field":"c","type":"nominal"},"y":{"datum":1.134},"text":{"condition":[{"test":"datum.p == 'g'","value":"(g) SOS"},{"test":"datum.p == 'h'","value":"(h) SOS"}],"value":"(i) SOS"}}},
{"transform":[{"filter":"datum.c == 'SCD' && isValid(datum.r) && datum.p != 'i'"}],"mark":{"type":"text","align":"left","baseline":"alphabetic","dx":22,"dy":-7,"fontSize":11},"encoding":{"x":{"field":"c","type":"nominal"},"y":{"datum":1.134},"text":{"condition":[{"test":"datum.p == 'g'","value":"EVI2"}],"value":"NDVI"}}},
{"transform":[{"filter":"datum.c == 'SCD' && isValid(datum.r) && datum.p == 'i'"}],"mark":{"type":"text","align":"left","baseline":"alphabetic","dx":17.4,"dy":-7,"fontSize":11},"encoding":{"x":{"field":"c","type":"nominal"},"y":{"datum":1.134},"text":{"value":"Midpoint"}}}
]}]}},
{"transform":[{"filter":{"field":"p","oneOf":["j","k","l"]}}],
"facet":{"column":{"field":"p","type":"nominal","title":null,"header":{"labels":false}}},
"spacing":88,"bounds":"flush","resolve":{"axis":{"y":"independent"}},
"spec":{"width":363,"height":206,"resolve":{"axis":{"y":"independent"}},
"layer":[
{"transform":[{"filter":"datum.c == 'SCD' && isValid(datum.r)"}],"mark":{"type":"rule","stroke":"#7030b0","strokeDash":[5,4],"strokeWidth":1.3},"encoding":{"y":{"datum":0,"type":"quantitative","scale":{"domain":[-1.134,1.134],"nice":false,"zero":false},"axis":{"orient":"left","values":[-0.9,-0.8,-0.7,-0.6,-0.4,-0.3,-0.2,-0.1,0.1,0.2,0.3,0.4,0.6,0.7,0.8,0.9],"labels":false,"tickSize":2.5,"title":null,"domain":false,"grid":false}}}},
{"resolve":{"scale":{"size":"independent","xOffset":"independent"}},"layer":[
{"mark":{"type":"rule","color":"black","strokeDash":[3,3],"strokeWidth":0.8},"encoding":{"x":{"field":"c","type":"nominal","title":null,"scale":{"type":"band","domain":["SCD","SCMD","WT","ST","WP","SP","SA"],"paddingInner":0,"paddingOuter":0.28},"axis":{"labelAngle":0,"tickSize":6,"labelPadding":9}},"y":{"field":"lo","type":"quantitative","scale":{"domain":[-1.134,1.134],"nice":false,"zero":false},"title":"Correlation coeff. r in SE","axis":{"orient":"left","values":[-1,-0.5,0,0.5,1],"format":".1f","tickSize":5,"labelAngle":270,"labelAlign":"center","labelBaseline":"bottom","labelPadding":6,"titlePadding":10,"labelFlush":false}},"y2":{"field":"hi"}}},
{"mark":{"type":"tick","color":"black","opacity":1,"thickness":1},"encoding":{"x":{"field":"c","type":"nominal"},"y":{"field":"lo","type":"quantitative"},"size":{"field":"n","type":"quantitative","scale":{"type":"sqrt","domain":[0,1],"range":[0,19.2]},"legend":null}}},
{"mark":{"type":"tick","color":"black","opacity":1,"thickness":1},"encoding":{"x":{"field":"c","type":"nominal"},"y":{"field":"hi","type":"quantitative"},"size":{"field":"n","type":"quantitative","scale":{"type":"sqrt","domain":[0,1],"range":[0,19.2]},"legend":null}}},
{"mark":{"type":"bar","fill":"#e9e9e9","stroke":"black","strokeWidth":0.9},"encoding":{"x":{"field":"c","type":"nominal"},"y":{"field":"q1","type":"quantitative"},"y2":{"field":"q3"},"size":{"field":"n","type":"quantitative","scale":{"type":"sqrt","domain":[0,1],"range":[0,38.4]},"legend":null}}},
{"mark":{"type":"point","shape":"M0.1,-1L-0.6,0L0.1,1","filled":true,"fill":"white","stroke":"black","strokeWidth":0.8,"opacity":1},"encoding":{"x":{"field":"c","type":"nominal"},"y":{"field":"md","type":"quantitative"},"xOffset":{"field":"n","type":"quantitative","scale":{"type":"sqrt","domain":[0,1],"range":[24.01,43.21]}},"size":{"field":"cw","type":"quantitative","scale":{"type":"pow","exponent":2,"domain":[0,0.1],"range":[0,333.4]},"legend":null}}},
{"mark":{"type":"point","shape":"M-0.1,-1L0.6,0L-0.1,1","filled":true,"fill":"white","stroke":"black","strokeWidth":0.8,"opacity":1},"encoding":{"x":{"field":"c","type":"nominal"},"y":{"field":"md","type":"quantitative"},"xOffset":{"field":"n","type":"quantitative","scale":{"type":"sqrt","domain":[0,1],"range":[24.01,4.81]}},"size":{"field":"cw","type":"quantitative","scale":{"type":"pow","exponent":2,"domain":[0,0.1],"range":[0,333.4]},"legend":null}}},
{"mark":{"type":"tick","color":"black","opacity":1,"thickness":0.9},"encoding":{"x":{"field":"c","type":"nominal"},"y":{"field":"q1","type":"quantitative"},"size":{"field":"n","type":"quantitative","scale":{"type":"sqrt","domain":[0,1],"range":[0,38.4]},"legend":null}}},
{"mark":{"type":"tick","color":"black","opacity":1,"thickness":0.9},"encoding":{"x":{"field":"c","type":"nominal"},"y":{"field":"q3","type":"quantitative"},"size":{"field":"n","type":"quantitative","scale":{"type":"sqrt","domain":[0,1],"range":[0,38.4]},"legend":null}}},
{"mark":{"type":"tick","color":"black","opacity":1,"thickness":3},"encoding":{"x":{"field":"c","type":"nominal"},"y":{"field":"md","type":"quantitative"},"size":{"field":"n","type":"quantitative","scale":{"type":"sqrt","domain":[0,1],"range":[0,19.2]},"legend":null}}},
{"mark":{"type":"rule","color":"black","strokeWidth":5,"strokeCap":"round"},"encoding":{"x":{"field":"c","type":"nominal"},"y":{"field":"a1","type":"quantitative"},"y2":{"field":"b1"}}},
{"mark":{"type":"rule","color":"black","strokeWidth":5,"strokeCap":"round"},"encoding":{"x":{"field":"c","type":"nominal"},"y":{"field":"a2","type":"quantitative"},"y2":{"field":"b2"}}},
{"mark":{"type":"point","shape":"circle","filled":false,"stroke":"black","strokeWidth":0.8,"size":20,"opacity":1},"encoding":{"x":{"field":"c","type":"nominal"},"y":{"field":"v","type":"quantitative"}}},
{"mark":{"type":"point","shape":"diamond","filled":true,"fill":"#8b1a1a","strokeWidth":0,"size":100,"opacity":1},"encoding":{"x":{"field":"c","type":"nominal"},"y":{"field":"r","type":"quantitative"}}},
{"transform":[{"filter":"isValid(datum.r)"}],"mark":{"type":"text","text":"r","fontStyle":"italic","align":"right","dx":-14.5},"encoding":{"x":{"field":"c","type":"nominal"},"y":{"datum":1}}},
{"transform":[{"filter":"isValid(datum.r)"}],"mark":{"type":"text","text":"=","align":"left","dx":-14.5},"encoding":{"x":{"field":"c","type":"nominal"},"y":{"datum":1}}},
{"transform":[{"filter":"isValid(datum.r)"}],"mark":{"type":"text","align":"left","dx":-7.5},"encoding":{"x":{"field":"c","type":"nominal"},"y":{"datum":1},"text":{"field":"r","type":"quantitative","format":".2f"}}},
{"transform":[{"filter":"isValid(datum.r)"}],"mark":{"type":"text"},"encoding":{"x":{"field":"c","type":"nominal"},"y":{"datum":-1},"text":{"field":"pl"}}},
{"transform":[{"filter":"datum.c == 'SCD' && isValid(datum.r)"}],"mark":{"type":"text","align":"left","baseline":"alphabetic","dx":-29.5,"dy":-10,"fontSize":14},"encoding":{"x":{"field":"c","type":"nominal"},"y":{"datum":1.134},"text":{"condition":[{"test":"datum.p == 'j'","value":"(j) SOS"},{"test":"datum.p == 'k'","value":"(k) SOS"}],"value":"(l)SOS"}}},
{"transform":[{"filter":"datum.c == 'SCD' && isValid(datum.r) && datum.p == 'j'"}],"mark":{"type":"text","align":"left","baseline":"alphabetic","dx":17.4,"dy":-7,"fontSize":11},"encoding":{"x":{"field":"c","type":"nominal"},"y":{"datum":1.134},"text":{"value":"EVI2"}}},
{"transform":[{"filter":"datum.c == 'SCD' && isValid(datum.r) && datum.p == 'k'"}],"mark":{"type":"text","align":"left","baseline":"alphabetic","dx":21.3,"dy":-7,"fontSize":11},"encoding":{"x":{"field":"c","type":"nominal"},"y":{"datum":1.134},"text":{"value":"NDVI"}}},
{"transform":[{"filter":"datum.c == 'SCD' && isValid(datum.r) && datum.p == 'l'"}],"mark":{"type":"text","align":"left","baseline":"alphabetic","dx":13.5,"dy":-7,"fontSize":11},"encoding":{"x":{"field":"c","type":"nominal"},"y":{"datum":1.134},"text":{"value":"Midpoint"}}}
]}]}}
],
"config":{
"font":"Liberation Sans",
"view":{"stroke":"black","strokeWidth":1},
"text":{"font":"Liberation Sans","fontSize":12,"color":"black"},
"axis":{"labelFont":"Liberation Sans","titleFont":"Liberation Sans","labelFontSize":12,"titleFontSize":12,"labelColor":"black","titleColor":"black","titleFontWeight":"normal","tickColor":"black","domain":false,"grid":false,"labelOverlap":false},
"header":{"labels":false,"title":null}
}
}
